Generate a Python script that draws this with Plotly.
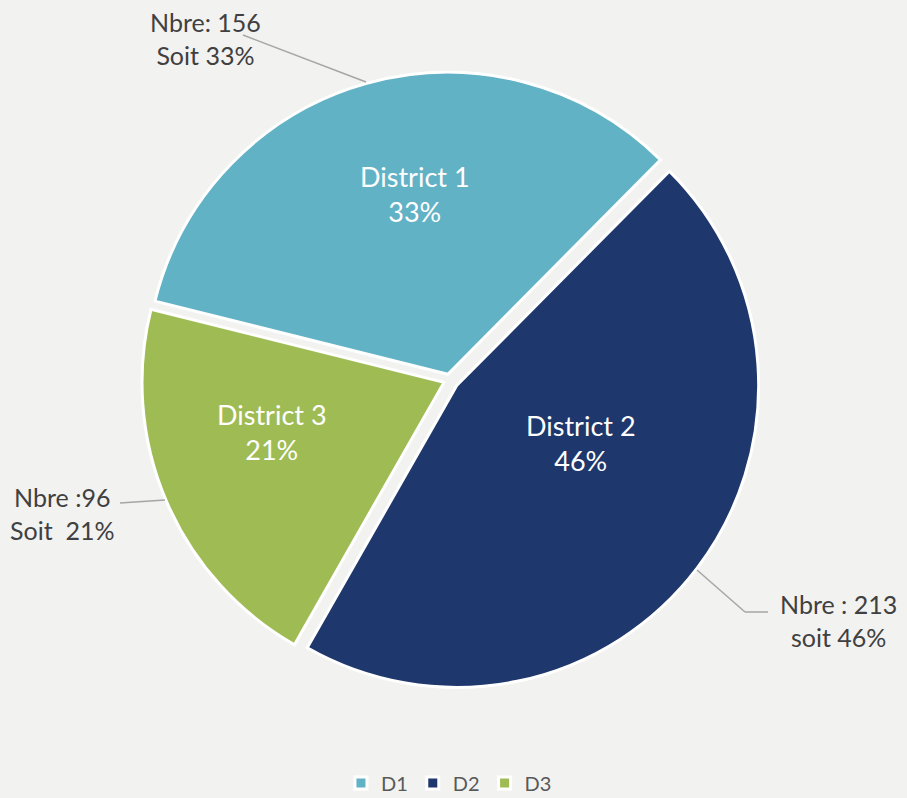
import plotly.graph_objects as go

labels = ["D1", "D2", "D3"]
names = ["District 1", "District 2", "District 3"]
values = [156, 213, 96]
pct_text = ["33%", "46%", "21%"]
colors = ["#62b2c6", "#1e376c", "#9fbc54"]
callouts = ["Nbre: 156<br>Soit 33%", "Nbre : 213<br>soit 46%", "Nbre :96<br>Soit  21%"]

W, H = 907, 798
def px(x): return x / W
def py(y): return 1 - y / H

CX, CY, R = 449.5, 380, 311

fig = go.Figure()
fig.add_trace(go.Pie(
    labels=labels, values=values,
    textinfo="none",
    sort=False, direction="clockwise", rotation=284,
    pull=[0.02, 0.03, 0.02],
    marker=dict(colors=colors, line=dict(color="white", width=3)),
    domain=dict(x=[px(CX - R), px(CX + R)], y=[py(CY + R), py(CY - R)]),
    hoverinfo="label+value+percent",
))

# inside labels
inside_pos = [(415, 194), (581, 443), (272, 432)]
for (x, y), n, p in zip(inside_pos, names, pct_text):
    fig.add_annotation(x=px(x), y=py(y), xref="paper", yref="paper", text=f"{n}<br>{p}",
                       xanchor="center", yanchor="middle",
                       showarrow=False, font=dict(size=27, color="white", family="Lato"),
                       align="center")

ann_pos = [(205, 38), (838, 620), (62, 513)]
for (x, y), t in zip(ann_pos, callouts):
    fig.add_annotation(x=px(x), y=py(y), xref="paper", yref="paper", text=t,
                       xanchor="center", yanchor="middle",
                       showarrow=False, font=dict(size=25, color="#404040", family="Lato"),
                       align="center")

lines = [[(243, 35), (366, 82)], [(120, 503), (165, 500)],
         [(697, 570), (745, 612)], [(745, 612), (768, 612)]]
for (x0, y0), (x1, y1) in lines:
    fig.add_shape(type="line", xref="paper", yref="paper",
                  x0=px(x0), y0=py(y0), x1=px(x1), y1=py(y1),
                  line=dict(color="#a6a6a6", width=1.5))

fig.update_layout(
    width=W, height=H,
    margin=dict(l=0, r=0, t=0, b=0, autoexpand=False),
    paper_bgcolor="#f2f2f1", plot_bgcolor="#f2f2f1",
    showlegend=True,
    legend=dict(orientation="h", x=0.495, xanchor="center", y=py(783), yanchor="middle",
                font=dict(size=20, color="#595959", family="Lato"), itemwidth=30),
)
fig.write_html("out.html", config={"displayModeBar": False},
               post_script="document.body.style.margin='0';document.body.style.background='#f2f2f1';")
